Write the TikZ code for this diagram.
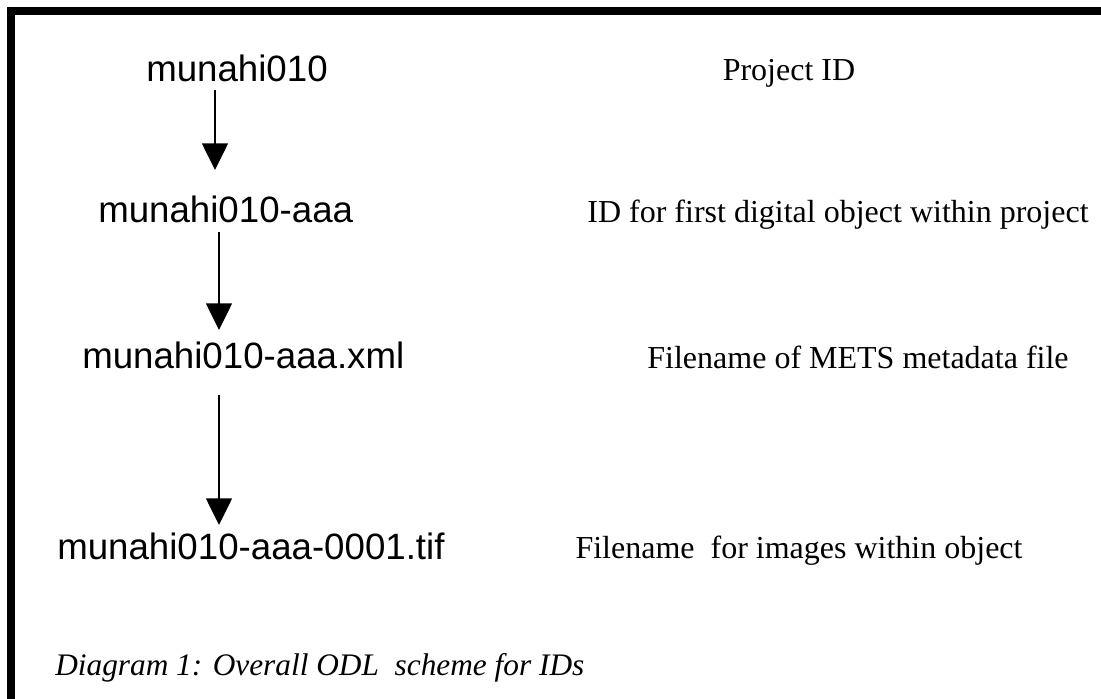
\documentclass[tikz,border=0pt]{standalone}
\usepackage{fontspec}
\setmainfont{Liberation Serif}
\setsansfont{Liberation Sans}
\usetikzlibrary{calc}
\usetikzlibrary{arrows.meta}
\usetikzlibrary{positioning}
\tikzset{idname/.style={font=\sffamily\fontsize{27.5}{30}\selectfont, inner sep=0pt, anchor=base west}}
\tikzset{descr/.style={font=\fontsize{24}{28}\selectfont, inner sep=0pt, anchor=base}}
\tikzset{connect/.style={draw, line width=1.1pt, -{Triangle[length=20pt,width=19.5pt]}}}

\begin{document}
\begin{tikzpicture}[x=0.75pt,y=-0.75pt]

\useasboundingbox (0,0) rectangle (1101,699);
\clip (0,0) rectangle (1101,699);
\draw[line width=6pt] (11,11) rectangle (1120,703);

%identifiers
\node[idname] (proj) at (146,82) {munahi010};
\node[idname] (obj) at (98,222) {munahi010-aaa};
\node[idname] (mets) at (82,368) {munahi010-aaa.xml};
\node[idname] (img) at (57,559) {munahi010-aaa-0001.tif};

%descriptions
\node[descr] (projlbl) at (789,81) {Project ID};
\node[descr] (objlbl) at (838,222) {ID for first digital object within project};
\node[descr] (metslbl) at (858,368) {Filename of METS metadata file};
\node[descr] (imglbl) at (799,558) {Filename\ \ for images within object};

%caption
\node[descr, anchor=base west, font=\itshape\fontsize{23.5}{28}\selectfont] (caption) at (55,675) {Diagram 1: Overall ODL\ \ scheme for IDs};

%arrows
\path[connect] ($(proj.base west)+(69,8)$) -- ($(obj.base west)+(117,-52)$);
\path[connect] ($(obj.base west)+(121,10)$) -- ($(mets.base west)+(137,-38)$);
\path[connect] ($(mets.base west)+(137,27)$) -- ($(img.base west)+(162,-34)$);

\end{tikzpicture}
\end{document}
